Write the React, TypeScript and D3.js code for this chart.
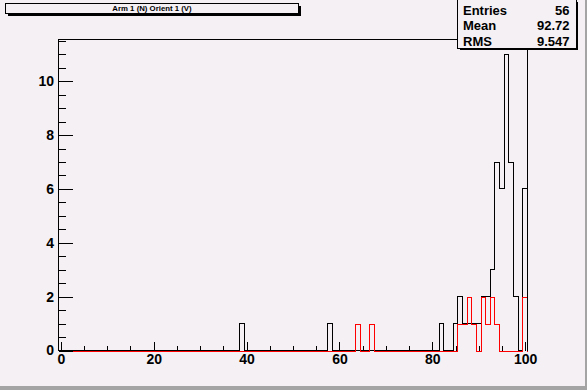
import * as d3 from "d3";
import { useEffect, useRef } from "react";

// bin centres (integer) and contents, 101 bins from -0.5 to 100.5
const ARM_BINS = [39, 58, 82, 85, 86, 87, 88, 89, 90, 91, 92, 93, 94, 95, 96, 97, 98, 100];
const ARM_COUNTS = [1, 1, 1, 1, 2, 1, 1, 1, 1, 2, 2, 3, 7, 6, 11, 7, 2, 6];
const ORIENT_BINS = [64, 67, 86, 87, 88, 89, 91, 92, 93, 94, 100];
const ORIENT_COUNTS = [1, 1, 1, 1, 2, 1, 2, 1, 2, 1, 2];

const TITLE = "Arm 1 (N) Orient 1 (V)";
const STAT_LABELS = ["Entries", "Mean", "RMS"];
const STAT_VALUES = ["56", "92.72", "9.547"];

const X_MAJOR = [0, 20, 40, 60, 80, 100];
const Y_MAJOR = [0, 2, 4, 6, 8, 10];

const WIDTH = 587;
const HEIGHT = 390;
const FONT = "'Liberation Sans', Arial, Helvetica, sans-serif";
const BG = "#f4f0f4";

const expand = (bins: number[], counts: number[]) => {
	const full = new Array(101).fill(0);
	bins.forEach((b, i) => (full[b] = counts[i]));
	return full;
};

const App = () => {
	const svgRef = useRef<SVGSVGElement>(null);

	useEffect(() => {
		const frame = { left: 58.5, right: 527.5, top: 39.5, bottom: 350.5 };
		const xScale = d3.scaleLinear().domain([-0.5, 100.5]).range([frame.left, frame.right]);
		const yScale = d3.scaleLinear().domain([0, 11.55]).range([frame.bottom, frame.top]);

		const svg = d3.select(svgRef.current);
		svg.selectAll("*").remove();

		svg.append("rect").attr("width", WIDTH).attr("height", HEIGHT).attr("fill", BG);
		// canvas bevel, bottom and right
		svg.append("rect").attr("x", 0).attr("y", HEIGHT - 4).attr("width", WIDTH).attr("height", 4).attr("fill", "#a4a4a4");
		svg.append("rect").attr("x", WIDTH - 2).attr("y", 0).attr("width", 2).attr("height", HEIGHT).attr("fill", "#a4a4a4");

		// histogram outline as a step path
		const stepPath = (counts: number[]) => {
			let p = `M${xScale(-0.5)},${yScale(0)}`;
			counts.forEach((c, i) => {
				p += `V${yScale(c)}H${xScale(i + 0.5)}`;
			});
			return p + `V${yScale(0)}`;
		};

		const g = svg.append("g").attr("shape-rendering", "crispEdges");

		g.append("path")
			.attr("d", stepPath(expand(ARM_BINS, ARM_COUNTS)))
			.attr("fill", "none")
			.attr("stroke", "#000")
			.attr("stroke-width", 1);

		g.append("path")
			.attr("d", stepPath(expand(ORIENT_BINS, ORIENT_COUNTS)))
			.attr("transform", "translate(0,1)")
			.attr("fill", "none")
			.attr("stroke", "#ff0000")
			.attr("stroke-width", 1);

		// frame
		g.append("path")
			.attr("d", `M${frame.left},${frame.bottom}V${frame.top}H${frame.right}V${frame.bottom}`)
			.attr("fill", "none")
			.attr("stroke", "#000");

		const styleAxis = (sel: any) => {
			sel.attr("font-size", null).attr("font-family", null);
			sel.select(".domain").remove();
			sel.selectAll("line").attr("stroke", "#000");
			sel.selectAll("text")
				.attr("fill", "#000")
				.style("font-family", FONT)
				.style("font-size", "14px")
				.style("font-weight", "bold");
		};

		// y axis, ticks pointing into the frame
		const yMinor = g.append("g").attr("transform", `translate(${frame.left},0)`)
			.call(d3.axisLeft(yScale).tickValues(d3.range(0, 11.51, 0.5)).tickSizeInner(-7).tickSizeOuter(0).tickFormat(() => ""));
		styleAxis(yMinor);
		const yMajor = g.append("g").attr("transform", `translate(${frame.left},0)`)
			.call(d3.axisLeft(yScale).tickValues(Y_MAJOR).tickSizeInner(-14).tickSizeOuter(0).tickPadding(4.5).tickFormat(d3.format("d")));
		styleAxis(yMajor);

		// x axis
		const xMinor = g.append("g").attr("transform", `translate(0,${frame.bottom})`)
			.call(d3.axisBottom(xScale).tickValues(d3.range(0, 101, 5)).tickSizeInner(-4.5).tickSizeOuter(0).tickFormat(() => ""));
		styleAxis(xMinor);
		const xMajor = g.append("g").attr("transform", `translate(0,${frame.bottom})`)
			.call(d3.axisBottom(xScale).tickValues(X_MAJOR).tickSizeInner(-9).tickSizeOuter(0).tickPadding(4).tickFormat(d3.format("d")));
		styleAxis(xMajor);

		// title box
		const tb = { x: 5.5, y: 3.5, w: 293, h: 10 };
		g.append("rect").attr("x", tb.x + 2).attr("y", tb.y + 2).attr("width", tb.w).attr("height", tb.h).attr("fill", "#000");
		g.append("rect").attr("x", tb.x).attr("y", tb.y).attr("width", tb.w).attr("height", tb.h)
			.attr("fill", BG).attr("stroke", "#000");
		svg.append("text")
			.attr("x", tb.x + tb.w / 2)
			.attr("y", tb.y + 7.6)
			.attr("text-anchor", "middle")
			.attr("font-family", FONT)
			.attr("font-size", 7.8)
			.attr("font-weight", "bold")
			.text(TITLE);

		// stats box
		const sb = { x: 457.5, y: -0.5, w: 118.5, h: 48.5 };
		g.append("rect").attr("x", sb.x + 2).attr("y", sb.y + 2).attr("width", sb.w).attr("height", sb.h).attr("fill", "#000");
		g.append("rect").attr("x", sb.x).attr("y", sb.y).attr("width", sb.w).attr("height", sb.h)
			.attr("fill", BG).attr("stroke", "#000");
		STAT_LABELS.forEach((label, i) => {
			const y = 15 + i * 15.3;
			svg.append("text")
				.attr("x", sb.x + 5.5)
				.attr("y", y)
				.attr("font-family", FONT)
				.attr("font-size", 13)
				.attr("font-weight", "bold")
				.text(label);
			svg.append("text")
				.attr("x", sb.x + sb.w - 6.5)
				.attr("y", y)
				.attr("text-anchor", "end")
				.attr("font-family", FONT)
				.attr("font-size", 13)
				.attr("font-weight", "bold")
				.text(STAT_VALUES[i]);
		});
	}, []);

	return (
		<svg
			ref={svgRef}
			width={WIDTH}
			height={HEIGHT}
			style={{ position: "absolute", left: 0, top: 0, display: "block" }}
		/>
	);
};

export default App;
